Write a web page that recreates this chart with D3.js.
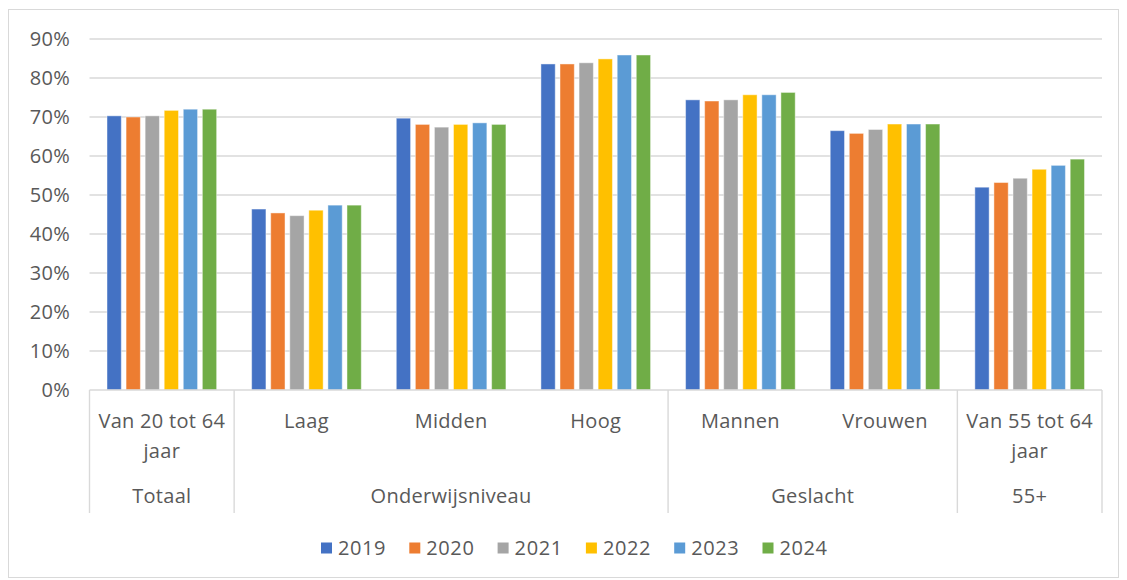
<!DOCTYPE html>
<html>
<head>
<meta charset="utf-8">
<script src="https://cdn.jsdelivr.net/npm/d3@7"></script>
<style>
  html, body { margin: 0; padding: 0; background: #fff; }
  svg { display: block; }
  text { font-family: "Open Sans", sans-serif; fill: #595959; }
</style>
</head>
<body>
<svg id="chart" width="1127" height="580"></svg>
<script>
// Arbeidsparticipatie per groep, 2019-2024 (%)
const categories = ["Van 20 tot 64 jaar", "Laag", "Midden", "Hoog", "Mannen", "Vrouwen", "Van 55 tot 64 jaar"];
const groups = [
  { name: "Totaal", size: 1 },
  { name: "Onderwijsniveau", size: 3 },
  { name: "Geslacht", size: 2 },
  { name: "55+", size: 1 }
];
const years = ["2019", "2020", "2021", "2022", "2023", "2024"];
const colors = ["#4472C4", "#ED7D31", "#A5A5A5", "#FFC000", "#5B9BD5", "#70AD47"];

const v2019 = [70.3, 46.4, 69.7, 83.6, 74.4, 66.5, 52.0];
const v2020 = [70.0, 45.4, 68.1, 83.6, 74.1, 65.8, 53.2];
const v2021 = [70.3, 44.7, 67.4, 83.9, 74.4, 66.8, 54.3];
const v2022 = [71.7, 46.1, 68.1, 84.9, 75.7, 68.2, 56.6];
const v2023 = [72.0, 47.4, 68.5, 85.9, 75.7, 68.2, 57.6];
const v2024 = [72.0, 47.4, 68.1, 85.9, 76.3, 68.2, 59.2];
const series = [v2019, v2020, v2021, v2022, v2023, v2024];

const yTicks = [0, 10, 20, 30, 40, 50, 60, 70, 80, 90];

const svg = d3.select("#chart");
const W = 1127, H = 580;
const plot = { left: 89.5, right: 1102, top: 39, bottom: 390 };

// chart frame
svg.append("rect")
  .attr("x", 8.5).attr("y", 9.5)
  .attr("width", 1110).attr("height", 568)
  .attr("fill", "#fff").attr("stroke", "#d9d9d9").attr("stroke-width", 1);

const y = d3.scaleLinear().domain([0, 90]).range([plot.bottom, plot.top]);
const x0 = d3.scaleBand().domain(categories).range([plot.left, plot.right]).padding(0);
const side = 17.5;
const x1 = d3.scaleBand().domain(years)
  .range([side, x0.bandwidth() - side])
  .paddingInner(0.25).paddingOuter(0);

// gridlines
svg.append("g").selectAll("line")
  .data(yTicks.filter(d => d > 0))
  .join("line")
  .attr("x1", plot.left).attr("x2", plot.right)
  .attr("y1", d => y(d)).attr("y2", d => y(d))
  .attr("stroke", "#d9d9d9").attr("stroke-width", 1.4);

// y-axis labels
const yAxis = d3.axisLeft(y).tickValues(yTicks).tickSize(0).tickPadding(0)
  .tickFormat(d => d + "%");
const yg = svg.append("g").attr("transform", `translate(70,0)`).call(yAxis);
yg.select(".domain").remove();
yg.selectAll("text")
  .attr("font-size", 20).attr("font-family", "Open Sans, sans-serif")
  .attr("fill", "#595959").attr("dy", "0.34em").attr("letter-spacing", 0.3);

// bars
const barG = svg.append("g");
categories.forEach((cat, ci) => {
  years.forEach((yr, si) => {
    const v = series[si][ci];
    barG.append("rect")
      .attr("x", x0(cat) + x1(yr))
      .attr("y", y(v))
      .attr("width", x1.bandwidth())
      .attr("height", y(0) - y(v))
      .attr("fill", colors[si])
      .attr("stroke", "#fff").attr("stroke-opacity", 0.45).attr("stroke-width", 1);
  });
});

// category axis line
svg.append("line")
  .attr("x1", plot.left).attr("x2", plot.right)
  .attr("y1", plot.bottom).attr("y2", plot.bottom)
  .attr("stroke", "#d9d9d9").attr("stroke-width", 1.4);

// group separators
let idx = 0;
const bounds = [x0(categories[0])];
groups.forEach(g => { idx += g.size; bounds.push(idx < categories.length ? x0(categories[idx]) : plot.right); });
svg.append("g").selectAll("line")
  .data(bounds)
  .join("line")
  .attr("x1", d => d).attr("x2", d => d)
  .attr("y1", plot.bottom).attr("y2", 513)
  .attr("stroke", "#d9d9d9").attr("stroke-width", 1.4);

// category labels (wrapped)
const catG = svg.append("g");
categories.forEach(cat => {
  const cx = x0(cat) + x0.bandwidth() / 2;
  const t = catG.append("text")
    .attr("x", cx).attr("y", 421).attr("dy", "0.35em")
    .attr("text-anchor", "middle").attr("font-size", 20).attr("letter-spacing", 0.3);
  const words = cat.split(" ");
  let lines = [cat];
  if (words.length > 4) lines = [words.slice(0, 4).join(" "), words.slice(4).join(" ")];
  lines.forEach((ln, i) => {
    t.append("tspan").attr("x", cx).attr("dy", i === 0 ? "0.35em" : "30px").text(ln);
  });
  t.attr("dy", null);
});

// group labels
svg.append("g").selectAll("text")
  .data(groups.map((g, i) => ({ name: g.name, cx: (bounds[i] + bounds[i + 1]) / 2 })))
  .join("text")
  .attr("x", d => d.cx).attr("y", 496).attr("dy", "0.35em")
  .attr("text-anchor", "middle").attr("font-size", 20).attr("letter-spacing", 0.3)
  .text(d => d.name);

// legend
const legStart = 321, legStep = 88.3;
const leg = svg.append("g").selectAll("g")
  .data(years)
  .join("g")
  .attr("transform", (d, i) => `translate(${legStart + i * legStep},548)`);
leg.append("rect").attr("x", 0).attr("y", -5.5).attr("width", 11).attr("height", 11)
  .attr("fill", (d, i) => colors[i]);
leg.append("text").attr("x", 17).attr("y", 0).attr("dy", "0.35em")
  .attr("font-size", 20).attr("letter-spacing", 0.6).text(d => d);
</script>
</body>
</html>
